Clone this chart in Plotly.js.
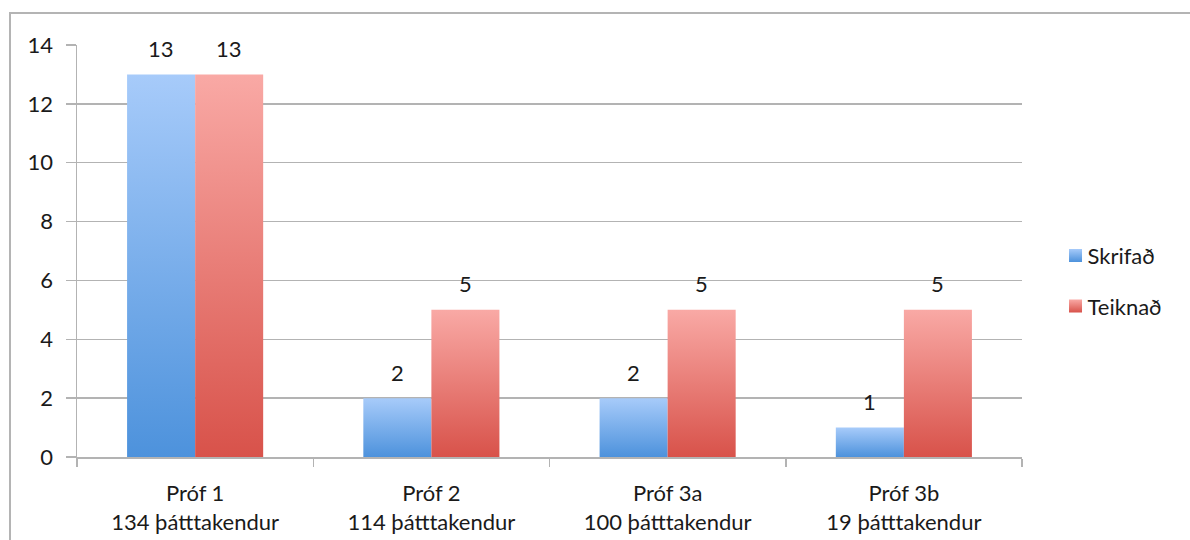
<!DOCTYPE html>
<html>
<head>
<meta charset="utf-8">
<script src="https://cdn.plot.ly/plotly-3.0.1.min.js"></script>
<style>
  html, body { margin: 0; padding: 0; background: #fff; }
  #wrap { position: relative; width: 1190px; height: 540px; overflow: hidden; }
  #chart { width: 1190px; height: 540px; }
  #frame { position: absolute; left: 9px; top: 12px; width: 1300px; height: 700px;
           border-left: 2px solid #b4b4b4; border-top: 2px solid #b4b4b4; pointer-events: none; }
</style>
</head>
<body>
<div id="wrap">
  <div id="chart"></div>
  <div id="frame"></div>
</div>
<script>
const categories = [
  "Próf 1<br>134 þátttakendur",
  "Próf 2<br>114 þátttakendur",
  "Próf 3a<br>100 þátttakendur",
  "Próf 3b<br>19 þátttakendur"
];
const seriesNames = ["Skrifað", "Teiknað"];
const skrifad = [13, 2, 2, 1];
const teiknad = [13, 5, 5, 5];
const yTicks = [0, 2, 4, 6, 8, 10, 12, 14];

const FONT = "Lato, 'Open Sans', 'Liberation Sans', sans-serif";
const FS = 22;
const gridCol = "#b3b3b3";

const traces = [
  { type: "bar", name: seriesNames[0], x: categories, y: skrifad,
    marker: { color: "#7aaeea" }, legendgroup: "a", hoverinfo: "skip" },
  { type: "bar", name: seriesNames[1], x: categories, y: teiknad,
    marker: { color: "#eb7c76" }, legendgroup: "b", hoverinfo: "skip" }
];

const annotations = [];
[skrifad, teiknad].forEach((vals, i) => {
  vals.forEach((v, j) => {
    annotations.push({
      x: categories[j], y: v, xref: "x", yref: "y",
      text: String(v), showarrow: false,
      xshift: i === 0 ? -34 : 34, yshift: 26,
      font: { family: FONT, size: FS, color: "#1a1a1a" }
    });
  });
});

const layout = {
  width: 1190, height: 540,
  margin: { l: 77, r: 168, t: 45, b: 83, pad: 0 },
  paper_bgcolor: "rgba(0,0,0,0)",
  plot_bgcolor: "#ffffff",
  barmode: "group",
  bargap: 0.424,
  bargroupgap: 0,
  showlegend: true,
  legend: {
    x: 1.027, xanchor: "left", y: 0.427, yanchor: "middle",
    traceorder: "grouped", tracegroupgap: 19,
    font: { family: FONT, size: FS, color: "#1a1a1a" },
    itemwidth: 30
  },
  xaxis: {
    type: "category",
    showgrid: false, zeroline: false,
    showline: true, linecolor: gridCol, linewidth: 1.5,
    ticks: "outside", tickson: "boundaries", ticklen: 8, tickcolor: gridCol, tickwidth: 1.5,
    tickfont: { family: FONT, size: FS, color: "#1a1a1a" },
    ticklabelstandoff: 16
  },
  yaxis: {
    range: [0, 14],
    tickvals: yTicks,
    ticktext: yTicks.map(String),
    showgrid: true, gridcolor: gridCol, gridwidth: 1.5,
    zeroline: false,
    showline: true, linecolor: gridCol, linewidth: 1.5,
    ticks: "outside", ticklen: 10, tickcolor: gridCol, tickwidth: 1.5,
    tickfont: { family: FONT, size: FS, color: "#1a1a1a" },
    ticklabelstandoff: 8
  },
  annotations: annotations
};

function addGradients(gd) {
  const svg = gd.querySelector("svg.main-svg");
  if (!svg) return;
  const ns = "http://www.w3.org/2000/svg";
  let defs = svg.querySelector("defs");
  if (!defs) { defs = document.createElementNS(ns, "defs"); svg.insertBefore(defs, svg.firstChild); }
  const grads = [
    { id: "gBlue", top: "#a7cbfa", bot: "#4d92dc" },
    { id: "gRed", top: "#f9a9a5", bot: "#d8524a" }
  ];
  grads.forEach(g => {
    const lg = document.createElementNS(ns, "linearGradient");
    lg.setAttribute("id", g.id);
    lg.setAttribute("x1", "0"); lg.setAttribute("y1", "0");
    lg.setAttribute("x2", "0"); lg.setAttribute("y2", "1");
    const s1 = document.createElementNS(ns, "stop");
    s1.setAttribute("offset", "0"); s1.setAttribute("stop-color", g.top);
    const s2 = document.createElementNS(ns, "stop");
    s2.setAttribute("offset", "1"); s2.setAttribute("stop-color", g.bot);
    lg.appendChild(s1); lg.appendChild(s2);
    defs.appendChild(lg);
  });
  const ids = ["gBlue", "gRed"];
  gd.querySelectorAll(".barlayer .trace.bars").forEach((t, i) => {
    t.querySelectorAll("path").forEach(p => { p.style.fill = "url(#" + ids[i % 2] + ")"; });
  });
  gd.querySelectorAll(".legend .traces").forEach((t, i) => {
    t.querySelectorAll(".legendpoints path").forEach(p => {
      p.style.fill = "url(#" + ids[i % 2] + ")";
      p.style.stroke = "none";
      p.setAttribute("d", "M14.5,6.5H1.5V-6.5H14.5Z");
    });
  });
}

Plotly.newPlot("chart", traces, layout, { displayModeBar: false, staticPlot: true })
  .then(gd => addGradients(gd));
</script>
</body>
</html>
